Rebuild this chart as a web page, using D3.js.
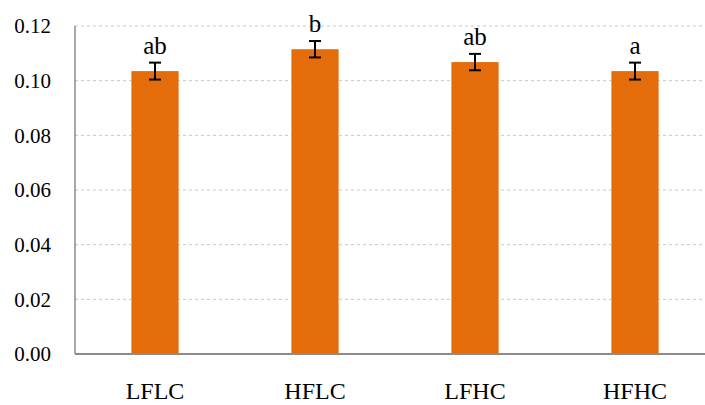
<!DOCTYPE html>
<html>
<head>
<meta charset="utf-8">
<script src="https://cdn.jsdelivr.net/npm/d3@7"></script>
<style>
  body { margin: 0; background: #fff; }
  svg { display: block; }
  svg text { font-family: "Liberation Serif", "Times New Roman", serif; fill: #000; }
</style>
</head>
<body>
<div id="chart"></div>
<script>
// data
var groups = ['LFLC', 'HFLC', 'LFHC', 'HFHC'];
var means = [0.1035, 0.1115, 0.1068, 0.1035];
var errors = [0.0031, 0.0030, 0.0030, 0.0031];
var letters = ['ab', 'b', 'ab', 'a'];
var yTicks = [0, 0.02, 0.04, 0.06, 0.08, 0.10, 0.12];

var serif = '"Liberation Serif", "Times New Roman", serif';
var width = 705, height = 405;
var margin = {top: 26, left: 75, bottom: 51, right: -10};
var g_width = width - margin.left - margin.right;
var g_height = height - margin.top - margin.bottom;

var svg = d3.select('#chart').append('svg')
  .attr('width', width)
  .attr('height', height)
  .attr('font-family', serif);
var g = svg.append('g')
  .attr('transform', 'translate(' + margin.left + ',' + margin.top + ')');

var xScale = d3.scaleBand().domain(groups).range([0, g_width]).paddingInner(0.705).paddingOuter(0.3525);
var yScale = d3.scaleLinear().domain([0, 0.12]).range([g_height, 0]);

// gridlines
g.selectAll('.grid')
  .data(yTicks.slice(1))
  .enter().append('line')
  .attr('class', 'grid')
  .attr('x1', 0).attr('x2', g_width)
  .attr('y1', function (d) { return yScale(d); })
  .attr('y2', function (d) { return yScale(d); })
  .attr('stroke', '#c8c8c8')
  .attr('stroke-width', 1)
  .attr('stroke-dasharray', '3,3');

// y axis labels
var yAxis = d3.axisLeft(yScale).tickValues(yTicks).tickFormat(d3.format('.2f')).tickSize(0).tickPadding(24);
var ya = g.append('g').call(yAxis).attr('font-family', serif).attr('font-size', 21);
ya.select('.domain').remove();
ya.selectAll('text')
  .attr('fill', '#000')
  .style('font-size', '21px');

// bars
g.selectAll('.bar')
  .data(groups)
  .enter().append('rect')
  .attr('class', 'bar')
  .attr('x', function (d) { return xScale(d); })
  .attr('width', xScale.bandwidth())
  .attr('y', function (d, i) { return yScale(means[i]); })
  .attr('height', function (d, i) { return g_height - yScale(means[i]); })
  .attr('fill', '#E46C0A');

// axis lines
g.append('line')
  .attr('x1', 0).attr('x2', 0)
  .attr('y1', 0).attr('y2', g_height)
  .attr('stroke', '#8c8c8c').attr('stroke-width', 1.5);
g.append('line')
  .attr('x1', 0).attr('x2', g_width)
  .attr('y1', g_height).attr('y2', g_height)
  .attr('stroke', '#8c8c8c').attr('stroke-width', 2);

// error bars
var cap = 6;
var eb = g.selectAll('.err')
  .data(groups)
  .enter().append('g')
  .attr('class', 'err')
  .attr('transform', function (d) { return 'translate(' + (xScale(d) + xScale.bandwidth() / 2) + ',0)'; });
eb.append('line')
  .attr('y1', function (d, i) { return yScale(means[i] + errors[i]); })
  .attr('y2', function (d, i) { return yScale(means[i] - errors[i]); })
  .attr('stroke', '#000').attr('stroke-width', 2);
eb.append('line')
  .attr('x1', -cap).attr('x2', cap)
  .attr('y1', function (d, i) { return yScale(means[i] + errors[i]); })
  .attr('y2', function (d, i) { return yScale(means[i] + errors[i]); })
  .attr('stroke', '#000').attr('stroke-width', 2);
eb.append('line')
  .attr('x1', -cap).attr('x2', cap)
  .attr('y1', function (d, i) { return yScale(means[i] - errors[i]); })
  .attr('y2', function (d, i) { return yScale(means[i] - errors[i]); })
  .attr('stroke', '#000').attr('stroke-width', 2);

// significance letters
eb.append('text')
  .attr('text-anchor', 'middle')
  .attr('y', function (d, i) { return yScale(means[i] + errors[i]) - 9; })
  .style('font-size', '25px')
  .text(function (d, i) { return letters[i]; });

// x labels
g.selectAll('.xlab')
  .data(groups)
  .enter().append('text')
  .attr('class', 'xlab')
  .attr('text-anchor', 'middle')
  .attr('x', function (d) { return xScale(d) + xScale.bandwidth() / 2; })
  .attr('y', g_height + 45)
  .style('font-size', '24px')
  .text(function (d) { return d; });
</script>
</body>
</html>
